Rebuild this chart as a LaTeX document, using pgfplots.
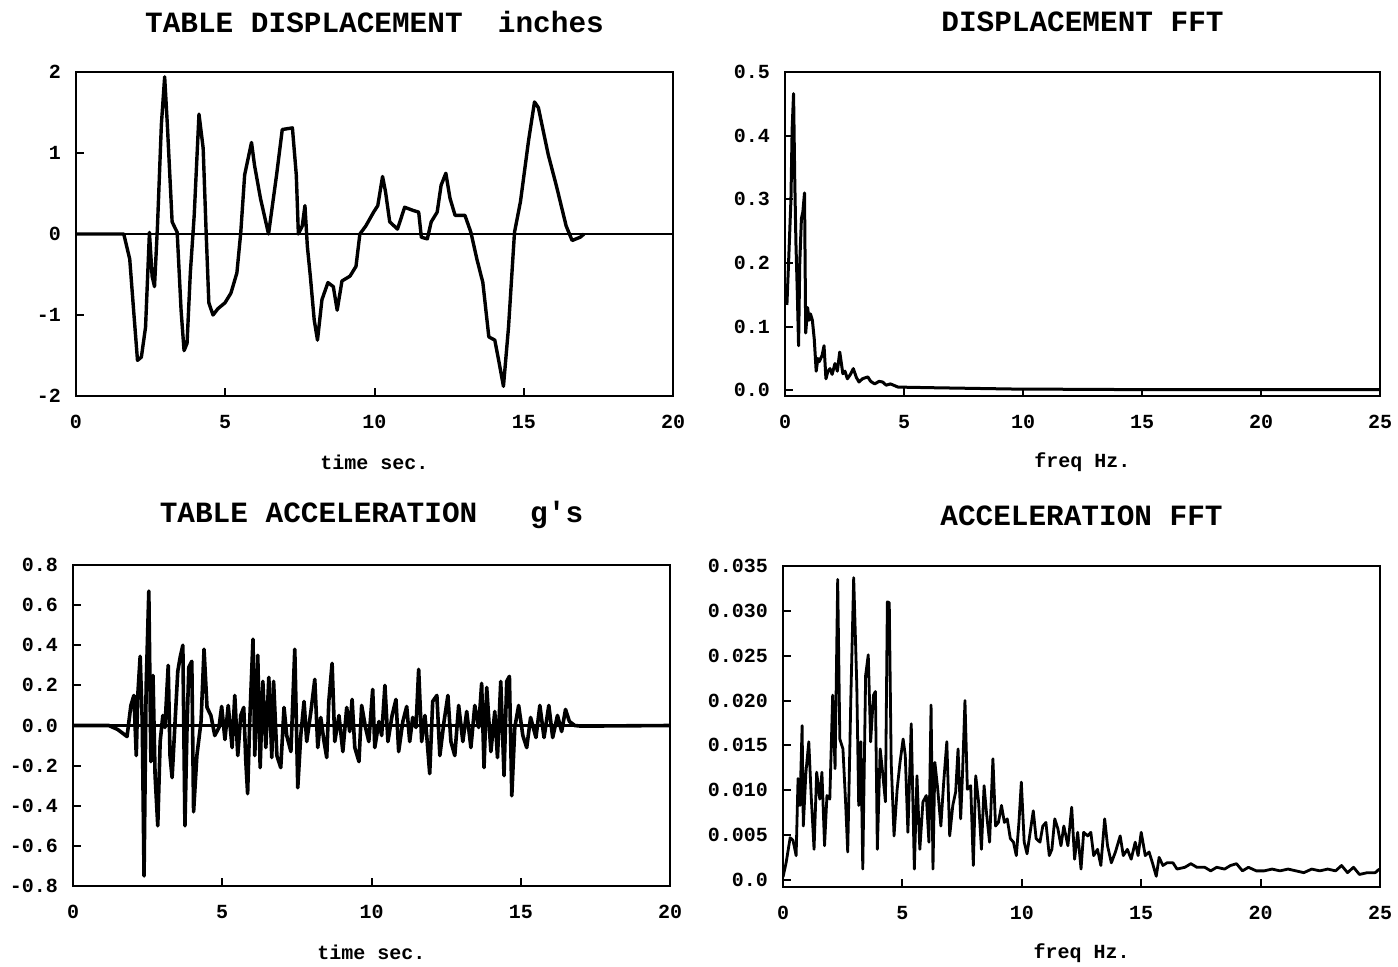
\documentclass[border=0pt]{standalone}
\usepackage{fontspec}
\setmainfont{Liberation Mono}
\usepackage{pgfplots}
\pgfplotsset{compat=1.18}

\newcommand{\tickfont}{\fontsize{10}{12}\selectfont\bfseries}
\newcommand{\titlefont}{\fontsize{14.7}{16}\selectfont\bfseries}

\pgfplotsset{
  panel/.style={
    scale only axis,
    anchor=south west,
    axis line style={line width=1.4pt},
    tick style={line width=1pt, black},
    tick align=inside,
    major tick length=4pt,
    xtick pos=bottom, ytick pos=left,
    ticklabel style={font=\tickfont},
    xticklabel style={yshift=-6pt},
    yticklabel style={xshift=-4pt},
    scaled ticks=false,
    /pgf/number format/assume math mode=true,
    title style={font=\titlefont, at={(0.5,1)}, anchor=center, yshift=19pt},
    xlabel style={font=\tickfont, at={(0.5,0)}, anchor=center, yshift=-33pt},
  },
  trace/.style={black, line width=#1, line join=round, mark=none},
  trace/.default=1.2pt,
}

\begin{document}
\begin{tikzpicture}
\useasboundingbox (0,0) rectangle (699pt,483pt);

% displacement
\begin{axis}[panel, at={(38pt,285pt)}, width=298.5pt, height=162pt,
    xmin=0, xmax=20, ymin=-2, ymax=2,
    xtick={0,5,10,15,20}, ytick={-2,-1,0,1,2},
    title={TABLE DISPLACEMENT~~inches}, xlabel={time sec.}]
\addplot[trace=1.4pt] coordinates {(0,0) (20,0)};
\addplot[trace=1.7pt] coordinates {(0,0) (1.60,0) (1.80,-0.31) (1.93,-0.94) (2.06,-1.56) (2.19,-1.52) (2.33,-1.15) (2.46,0.02) (2.55,-0.52) (2.63,-0.65) (2.73,0.10) (2.86,1.35) (2.97,1.94) (3.06,1.35) (3.22,0.15) (3.39,0.02) (3.52,-0.94) (3.62,-1.44) (3.72,-1.35) (3.83,-0.48) (3.96,0.23) (4.12,1.48) (4.26,1.06) (4.36,0.02) (4.45,-0.85) (4.59,-1.00) (4.76,-0.92) (4.99,-0.85) (5.19,-0.73) (5.39,-0.48) (5.52,0.02) (5.65,0.73) (5.88,1.13) (5.98,0.85) (6.18,0.44) (6.45,0) (6.72,0.73) (6.91,1.29) (7.25,1.31) (7.38,0.73) (7.45,0) (7.58,0.10) (7.67,0.35) (7.75,-0.15) (7.85,-0.52) (7.98,-1.06) (8.09,-1.31) (8.24,-0.81) (8.44,-0.60) (8.62,-0.65) (8.75,-0.94) (8.91,-0.58) (9.18,-0.52) (9.38,-0.40) (9.51,0) (9.71,0.10) (9.97,0.27) (10.11,0.35) (10.27,0.71) (10.37,0.52) (10.51,0.15) (10.77,0.06) (11.01,0.33) (11.30,0.29) (11.48,0.27) (11.57,-0.04) (11.77,-0.06) (11.90,0.15) (12.10,0.27) (12.23,0.60) (12.39,0.75) (12.53,0.44) (12.70,0.23) (13.03,0.23) (13.23,0.02) (13.43,-0.31) (13.63,-0.60) (13.83,-1.27) (14.03,-1.31) (14.16,-1.56) (14.32,-1.88) (14.49,-1.15) (14.69,0.02) (14.89,0.40) (15.16,1.15) (15.36,1.63) (15.49,1.56) (15.82,0.98) (16.09,0.60) (16.42,0.10) (16.62,-0.08) (16.89,-0.04) (17.02,0)};
\end{axis}

% displacement FFT
\begin{axis}[panel, at={(392.5pt,285pt)}, width=297.5pt, height=162pt,
    xmin=0, xmax=25, ymin=-0.009, ymax=0.5,
    xtick={0,5,10,15,20,25}, ytick={0,0.1,0.2,0.3,0.4,0.5},
    yticklabels={0.0,0.1,0.2,0.3,0.4,0.5},
    title={DISPLACEMENT FFT}, xlabel={freq Hz.}]
\addplot[trace=1.5pt] coordinates {(0.08,0.134) (0.16,0.21) (0.25,0.30) (0.30,0.41) (0.36,0.466) (0.41,0.33) (0.46,0.23) (0.52,0.15) (0.57,0.07) (0.62,0.20) (0.69,0.27) (0.75,0.28) (0.82,0.31) (0.87,0.09) (0.95,0.13) (1.01,0.11) (1.07,0.12) (1.15,0.11) (1.23,0.08) (1.31,0.03) (1.38,0.05) (1.44,0.045) (1.56,0.055) (1.64,0.07) (1.72,0.018) (1.80,0.03) (1.89,0.034) (1.98,0.025) (2.10,0.042) (2.20,0.03) (2.30,0.06) (2.43,0.026) (2.52,0.03) (2.62,0.018) (2.75,0.025) (2.87,0.034) (3.00,0.02) (3.11,0.013) (3.25,0.018) (3.48,0.021) (3.60,0.014) (3.77,0.010) (3.95,0.014) (4.10,0.013) (4.25,0.008) (4.43,0.010) (4.75,0.005) (6.2,0.004) (9.5,0.002) (15,0.001) (25,0.001)};
\end{axis}

% acceleration
\begin{axis}[panel, at={(36.5pt,40pt)}, width=298.5pt, height=160.5pt,
    xmin=0, xmax=20, ymin=-0.8, ymax=0.8,
    xtick={0,5,10,15,20}, ytick={-0.8,-0.6,-0.4,-0.2,0,0.2,0.4,0.6,0.8},
    yticklabels={-0.8,-0.6,-0.4,-0.2,0.0,0.2,0.4,0.6,0.8},
    title={TABLE ACCELERATION~~~g\textquotesingle s}, xlabel={time sec.}]
\addplot[trace=1.3pt] coordinates {(0,0) (20,0)};
\addplot[trace=1.8pt] coordinates {(0,0) (1.20,0) (1.50,-0.02) (1.81,-0.055) (1.94,0.10) (2.04,0.15) (2.12,-0.15) (2.17,0.15) (2.25,0.345) (2.32,0.02) (2.38,-0.75) (2.45,0.19) (2.54,0.67) (2.61,-0.18) (2.68,0.25) (2.75,-0.25) (2.84,-0.50) (2.92,-0.08) (3.01,0.05) (3.08,-0.01) (3.19,0.30) (3.25,-0.15) (3.32,-0.26) (3.42,0.02) (3.51,0.27) (3.59,0.34) (3.68,0.40) (3.75,-0.50) (3.82,-0.01) (3.88,0.29) (3.98,0.32) (4.04,-0.43) (4.15,-0.15) (4.29,0.02) (4.39,0.38) (4.49,0.09) (4.62,0.05) (4.75,-0.05) (4.89,-0.01) (4.98,0.095) (5.09,-0.07) (5.20,0.10) (5.33,-0.11) (5.42,0.15) (5.52,-0.15) (5.62,0.05) (5.72,0.09) (5.79,-0.18) (5.85,-0.34) (5.92,0.02) (6.03,0.43) (6.09,-0.15) (6.19,0.35) (6.27,-0.21) (6.36,0.22) (6.46,-0.11) (6.56,0.24) (6.66,-0.16) (6.72,0.22) (6.83,-0.15) (6.96,-0.21) (7.07,0.09) (7.16,-0.05) (7.30,-0.13) (7.43,0.38) (7.53,-0.31) (7.63,-0.05) (7.74,0.12) (7.83,-0.08) (7.97,0.07) (8.10,0.23) (8.20,-0.11) (8.30,0.04) (8.41,-0.08) (8.50,-0.16) (8.57,0.12) (8.68,0.31) (8.77,-0.08) (8.91,0.05) (9.04,-0.13) (9.17,0.09) (9.27,-0.03) (9.35,0.13) (9.44,-0.11) (9.58,-0.18) (9.67,0.10) (9.80,-0.01) (9.91,-0.08) (10.04,0.18) (10.11,-0.11) (10.25,0.02) (10.34,-0.05) (10.45,0.20) (10.55,-0.08) (10.69,0.05) (10.82,0.13) (10.91,-0.13) (11.05,0.02) (11.18,0.095) (11.28,-0.08) (11.38,0.04) (11.49,-0.01) (11.58,0.28) (11.68,-0.08) (11.79,0.05) (11.85,-0.05) (11.95,-0.24) (12.05,0.12) (12.19,0.15) (12.29,-0.15) (12.43,0.02) (12.56,0.15) (12.66,-0.08) (12.79,-0.15) (12.92,0.10) (13.06,-0.08) (13.19,0.07) (13.33,-0.11) (13.46,0.10) (13.59,-0.01) (13.69,0.21) (13.77,-0.21) (13.86,0.19) (14.00,-0.13) (14.13,0.07) (14.22,-0.16) (14.33,0.22) (14.44,-0.25) (14.53,0.22) (14.62,0.245) (14.70,-0.35) (14.80,-0.01) (14.93,0.10) (15.07,-0.05) (15.20,-0.11) (15.33,0.04) (15.51,-0.06) (15.64,0.10) (15.78,-0.06) (15.94,0.10) (16.07,-0.06) (16.23,0.05) (16.37,-0.03) (16.50,0.08) (16.63,0.02) (16.81,0.00) (17.01,-0.003) (20,0)};
\end{axis}

% acceleration FFT
\begin{axis}[panel, at={(391.5pt,39.5pt)}, width=298.5pt, height=160.5pt,
    xmin=0, xmax=25, ymin=-0.0008, ymax=0.035,
    xtick={0,5,10,15,20,25},
    ytick={0,0.005,0.010,0.015,0.020,0.025,0.030,0.035},
    yticklabels={0.0,0.005,0.010,0.015,0.020,0.025,0.030,0.035},
    title={ACCELERATION FFT}, xlabel={freq Hz.}]
\addplot[trace=1.4pt] coordinates {(0,0.0003) (0.13,0.0019) (0.30,0.0047) (0.42,0.0044) (0.55,0.0027) (0.63,0.0113) (0.71,0.0083) (0.80,0.0172) (0.85,0.0060) (0.96,0.0120) (1.08,0.0154) (1.18,0.0094) (1.30,0.0034) (1.41,0.0120) (1.54,0.0090) (1.63,0.0120) (1.74,0.0038) (1.84,0.0094) (1.96,0.0090) (2.08,0.0206) (2.18,0.0124) (2.29,0.0335) (2.38,0.0157) (2.51,0.0146) (2.62,0.0087) (2.71,0.0031) (2.84,0.0202) (2.96,0.0337) (3.09,0.0217) (3.17,0.0083) (3.26,0.0154) (3.34,0.0012) (3.46,0.0228) (3.57,0.0251) (3.67,0.0154) (3.79,0.0206) (3.87,0.0210) (3.95,0.0034) (4.07,0.0146) (4.17,0.0120) (4.29,0.0087) (4.37,0.0310) (4.45,0.0309) (4.53,0.0131) (4.65,0.0049) (4.78,0.0101) (4.90,0.0131) (5.03,0.0157) (5.12,0.0139) (5.23,0.0053) (5.37,0.0174) (5.50,0.0012) (5.61,0.0116) (5.73,0.0034) (5.86,0.0087) (6.00,0.0094) (6.11,0.0042) (6.20,0.0195) (6.28,0.0012) (6.36,0.0131) (6.48,0.0101) (6.61,0.0060) (6.73,0.0109) (6.86,0.0154) (6.98,0.0049) (7.11,0.0083) (7.23,0.0098) (7.33,0.0146) (7.44,0.0068) (7.52,0.0120) (7.62,0.0200) (7.72,0.0101) (7.86,0.0105) (7.97,0.0016) (8.07,0.0116) (8.19,0.0087) (8.31,0.0034) (8.42,0.0105) (8.52,0.0075) (8.65,0.0042) (8.79,0.0135) (8.90,0.0060) (9.02,0.0064) (9.15,0.0083) (9.27,0.0064) (9.39,0.0068) (9.52,0.0046) (9.65,0.0042) (9.77,0.0027) (9.88,0.0064) (9.98,0.0109) (10.10,0.0042) (10.22,0.0029) (10.35,0.0053) (10.48,0.0077) (10.60,0.0046) (10.76,0.0042) (10.88,0.0060) (11.01,0.0064) (11.15,0.0027) (11.26,0.0034) (11.38,0.0068) (11.51,0.0057) (11.64,0.0038) (11.76,0.0060) (11.93,0.0038) (12.09,0.0081) (12.21,0.0023) (12.34,0.0053) (12.48,0.0012) (12.59,0.0053) (12.76,0.0049) (12.89,0.0053) (13.01,0.0027) (13.17,0.0034) (13.31,0.0016) (13.47,0.0068) (13.59,0.0038) (13.75,0.0019) (13.92,0.0031) (14.12,0.0049) (14.25,0.0027) (14.42,0.0034) (14.58,0.0023) (14.75,0.0042) (14.87,0.0027) (15.00,0.0053) (15.17,0.0027) (15.33,0.0031) (15.47,0.0019) (15.63,0.0004) (15.75,0.0025) (15.91,0.0016) (16.08,0.0019) (16.33,0.0019) (16.50,0.0012) (16.83,0.0014) (17.08,0.0018) (17.33,0.0014) (17.66,0.0014) (17.91,0.0010) (18.16,0.0014) (18.49,0.0012) (18.74,0.0016) (18.99,0.0018) (19.24,0.0010) (19.49,0.0014) (19.82,0.0010) (20.15,0.0010) (20.48,0.0012) (20.81,0.0010) (21.15,0.0012) (21.48,0.0010) (21.81,0.0008) (22.14,0.0012) (22.48,0.0010) (22.81,0.0012) (23.14,0.0010) (23.39,0.0016) (23.64,0.0008) (23.89,0.0014) (24.14,0.0006) (24.47,0.0008) (24.80,0.0008) (24.97,0.0012)};
\end{axis}
\end{tikzpicture}
\end{document}
